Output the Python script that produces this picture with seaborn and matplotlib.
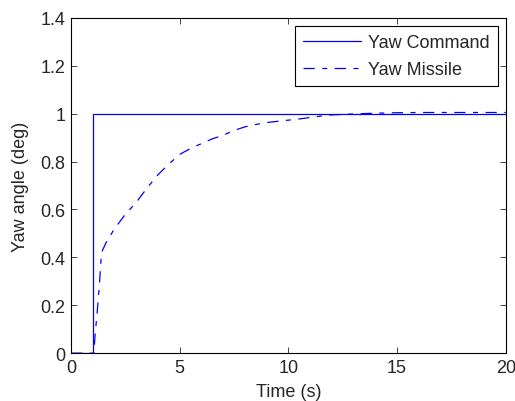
import matplotlib
matplotlib.use("Agg")
import matplotlib.pyplot as plt
import seaborn as sns
import pandas as pd

sns.set_style("ticks")
plt.rcParams['font.family'] = ['Liberation Sans', 'DejaVu Sans']

cmd_t = [0, 1, 1, 20]
cmd_y = [0, 0, 1, 1]

mis_t = [0, 1.05, 1.1, 1.2, 1.3, 1.4, 1.6, 1.8, 2.0, 2.5, 3.0, 3.5, 4.0, 4.5, 5.0, 5.5,
         6.0, 6.5, 7.0, 7.5, 8.0, 8.5, 9.0, 9.5, 10.0, 10.5, 11.0, 11.5, 12.0, 13.0,
         14.0, 15.0, 16.0, 17.0, 18.0, 19.0, 20.0]
mis_y = [0, 0, 0.07, 0.17, 0.28, 0.42, 0.46, 0.49, 0.52, 0.58, 0.63, 0.69, 0.745, 0.79,
         0.83, 0.855, 0.875, 0.895, 0.91, 0.93, 0.945, 0.955, 0.963, 0.968, 0.973,
         0.978, 0.984, 0.99, 0.995, 0.999, 1.002, 1.004, 1.005, 1.005, 1.005, 1.005, 1.005]

FS = 13

fig = plt.figure(figsize=(5.15, 4.02), dpi=100)
ax = fig.add_axes([0.138, 0.119, 0.844, 0.834])

sns.lineplot(x=cmd_t, y=cmd_y, ax=ax, sort=False, estimator=None, color='#0000ff',
             linewidth=0.9, label='Yaw Command')
sns.lineplot(x=mis_t, y=mis_y, ax=ax, sort=False, estimator=None, color='#0000ff',
             linewidth=0.9, label='Yaw Missile')
ax.lines[1].set_dashes([9, 6, 4, 6])

ax.set_xlim(0, 20)
ax.set_ylim(0, 1.4)
ax.set_xticks([0, 5, 10, 15, 20])
ax.set_yticks([0, 0.2, 0.4, 0.6, 0.8, 1.0, 1.2, 1.4])
ax.set_yticklabels(['0', '0.2', '0.4', '0.6', '0.8', '1', '1.2', '1.4'])
ax.set_xlabel('Time (s)', fontsize=FS, labelpad=5)
ax.set_ylabel('Yaw angle (deg)', fontsize=FS, labelpad=8)
ax.tick_params(direction='in', top=True, right=True, labelsize=FS, length=4, width=0.6, pad=4)
for s in ax.spines.values():
    s.set_linewidth(0.8)
    s.set_color('black')

leg = ax.legend(loc='upper right', fontsize=FS, frameon=True, fancybox=False,
                edgecolor='black', framealpha=1, borderaxespad=0.45, handlelength=3.2,
                handletextpad=0.4, borderpad=0.45, labelspacing=0.55)
leg.get_frame().set_linewidth(0.8)

fig.savefig('out.png', dpi=100)
